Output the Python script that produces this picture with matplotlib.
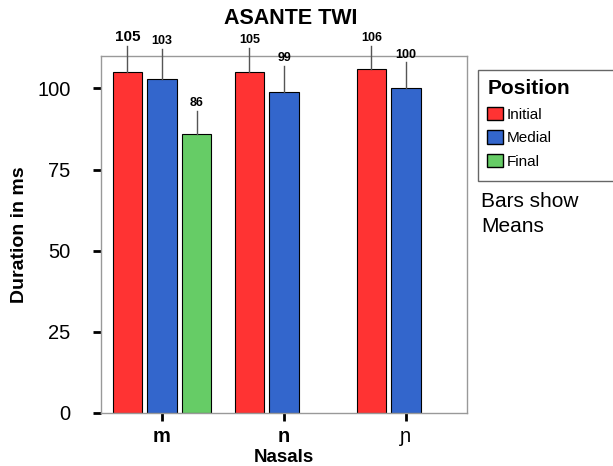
import matplotlib
matplotlib.use("Agg")
import matplotlib.pyplot as plt
from matplotlib.patches import Rectangle, Patch
import numpy as np

plt.rcParams['font.family'] = ['Liberation Sans', 'DejaVu Sans']

categories = ["m", "n", "ɲ"]
positions = ["Initial", "Medial", "Final"]
colors = ["#FF3333", "#3366CC", "#66CC66"]
means = {
    "Initial": [105, 105, 106],
    "Medial": [103, 99, 100],
    "Final": [86, None, None],
}
upper = {
    "Initial": [113.2, 112.6, 113.2],
    "Medial": [112.3, 107.0, 108.0],
    "Final": [93.2, None, None],
}
labels = {
    "Initial": ["105", "105", "106"],
    "Medial": ["103", "99", "100"],
    "Final": ["86", None, None],
}

fig = plt.figure(figsize=(6.13, 4.66), dpi=100)
ax = fig.add_axes([101/613, 1-413/466, (467-101)/613, (413-56)/466])

step = 0.283
width = 0.24
x = np.arange(len(categories))
for i, pos in enumerate(positions):
    off = (i - 1) * step
    for j in range(len(categories)):
        m = means[pos][j]
        if m is None:
            continue
        xx = x[j] + off
        ax.bar(xx, m, width=width, color=colors[i], edgecolor="black", linewidth=0.8, zorder=2)
        ax.plot([xx, xx], [m, upper[pos][j]], color="#555555", lw=1.0, clip_on=False, zorder=3)
        fs = 11 if (i == 0 and j == 0) else 9
        ax.text(xx, upper[pos][j] + 0.6, labels[pos][j], ha="center", va="bottom",
                fontsize=fs, fontweight="bold", clip_on=False)

ax.set_xlim(-0.5, 2.5)
ax.set_ylim(0, 110)
ax.set_yticks([0, 25, 50, 75, 100])
ax.set_yticklabels(["0", "25", "50", "75", "100"], fontsize=14.5)
ax.set_xticks(x)
ax.set_xticklabels(categories, fontsize=14.5)
for t, w in zip(ax.get_xticklabels(), ["bold", "bold", "normal"]):
    t.set_fontweight(w)
ax.tick_params(axis="both", length=6, width=2, color="black")
ax.tick_params(axis="y", pad=16)
ax.tick_params(axis="x", pad=4)
for s in ax.spines.values():
    s.set_color("#999999")
    s.set_linewidth(1.0)

ax.set_ylabel("Duration in ms", fontsize=14, fontweight="bold")
ax.yaxis.set_label_coords(-(101-28)/366, 0.5)
ax.set_xlabel("Nasals", fontsize=13.5, fontweight="bold")
ax.xaxis.set_label_coords(0.5, -(465.5-413)/357)
ax.xaxis.label.set_va("bottom")
fig.text(291/613, 1-18/466, "ASANTE TWI", ha="center", va="center", fontsize=15.5, fontweight="bold")

# legend frame
fig.add_artist(Rectangle((478/613, 1-181/466), 140/613, 111/466, transform=fig.transFigure,
                         facecolor="white", edgecolor="#666666", lw=1.0, clip_on=False))
handles = [Patch(facecolor=c, edgecolor="black", label=p) for c, p in zip(colors, positions)]
leg = fig.legend(handles=handles, title="Position", loc="upper left",
                 bbox_to_anchor=(475/613, 1-67/466), frameon=False, fontsize=11,
                 handlelength=1.05, handleheight=1.0, handletextpad=0.2, labelspacing=0.55,
                 borderpad=0.3, alignment="left", title_fontproperties={"weight": "bold", "size": 15})
fig.text(481/613, 1-214/466, "Bars show\nMeans", ha="left", va="center", fontsize=15,
         linespacing=1.4)

fig.savefig("out.png", dpi=100)
